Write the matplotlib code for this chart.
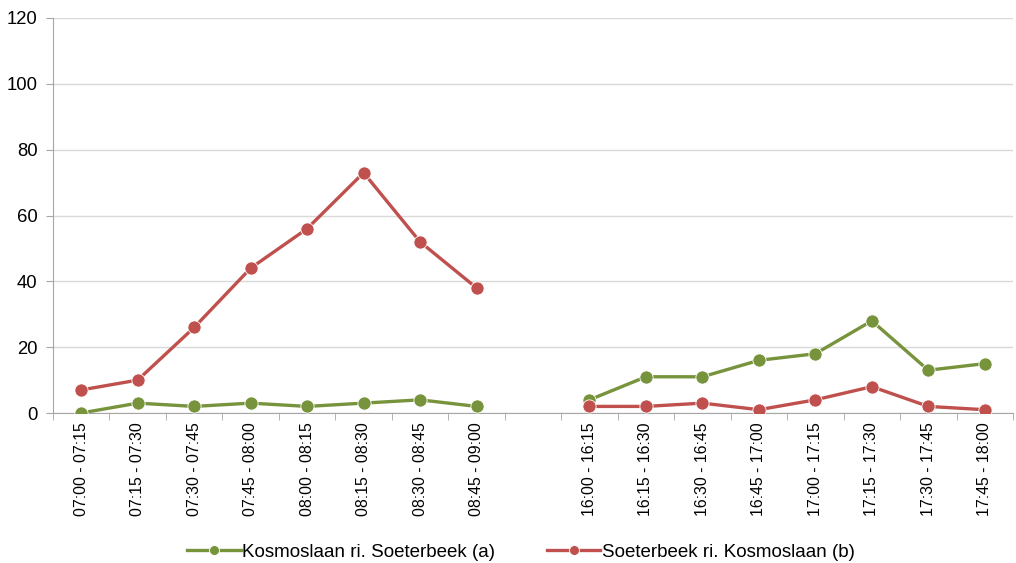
import numpy as np
import matplotlib
matplotlib.use('Agg')
from matplotlib import pyplot as plt

# Categories (empty slot between morning and evening periods)
labels = ['07:00 - 07:15', '07:15 - 07:30', '07:30 - 07:45', '07:45 - 08:00',
          '08:00 - 08:15', '08:15 - 08:30', '08:30 - 08:45', '08:45 - 09:00',
          '',
          '16:00 - 16:15', '16:15 - 16:30', '16:30 - 16:45', '16:45 - 17:00',
          '17:00 - 17:15', '17:15 - 17:30', '17:30 - 17:45', '17:45 - 18:00']
kosmo = [0, 3, 2, 3, 2, 3, 4, 2, None, 4, 11, 11, 16, 18, 28, 13, 15]
soeter = [7, 10, 26, 44, 56, 73, 52, 38, None, 2, 2, 3, 1, 4, 8, 2, 1]

GREEN = '#77933C'
RED = '#C0504D'

plt.rcParams['font.family'] = ['Liberation Sans', 'DejaVu Sans']

fig = plt.figure(figsize=(10.16, 5.63), dpi=100)
ax = fig.add_axes([53/1016, 1 - 413/563, (1013-53)/1016, (413-18)/563])

x = np.arange(len(labels))
y1 = np.array([np.nan if v is None else v for v in kosmo], dtype=float)
y2 = np.array([np.nan if v is None else v for v in soeter], dtype=float)

ax.plot(x, y1, color=GREEN, lw=2.4, marker='o', ms=9.5, mec='white', mew=0.6,
        label='Kosmoslaan ri. Soeterbeek (a)', zorder=3)
ax.plot(x, y2, color=RED, lw=2.4, marker='o', ms=9.5, mec='white', mew=0.6,
        label='Soeterbeek ri. Kosmoslaan (b)', zorder=3)

ax.set_xlim(-0.5, len(labels) - 0.5)
ax.set_ylim(0, 120)
ax.set_yticks(range(0, 121, 20))
ax.grid(axis='y', color='#D9D9D9', lw=1)
ax.set_axisbelow(True)

ax.set_xticks(x)
ax.set_xticklabels(labels, rotation=90, fontsize=11.4)
ax.tick_params(axis='x', length=0, pad=7)
ax.set_xticks(np.arange(-0.5, len(labels)), minor=True)
ax.tick_params(axis='x', which='minor', length=5, color='#A6A6A6', direction='out')
ax.tick_params(axis='y', labelsize=13.3, length=5, color='#A6A6A6', pad=6)

for s in ['top', 'right']:
    ax.spines[s].set_visible(False)
for s in ['left', 'bottom']:
    ax.spines[s].set_color('#A6A6A6')

fig.legend(loc='lower center', bbox_to_anchor=(0.513, -0.026), ncol=2, frameon=False,
           fontsize=13.5, handlelength=2.85, columnspacing=2.75, handletextpad=0.1,
           markerscale=0.75)

fig.savefig('out.png', dpi=100)
